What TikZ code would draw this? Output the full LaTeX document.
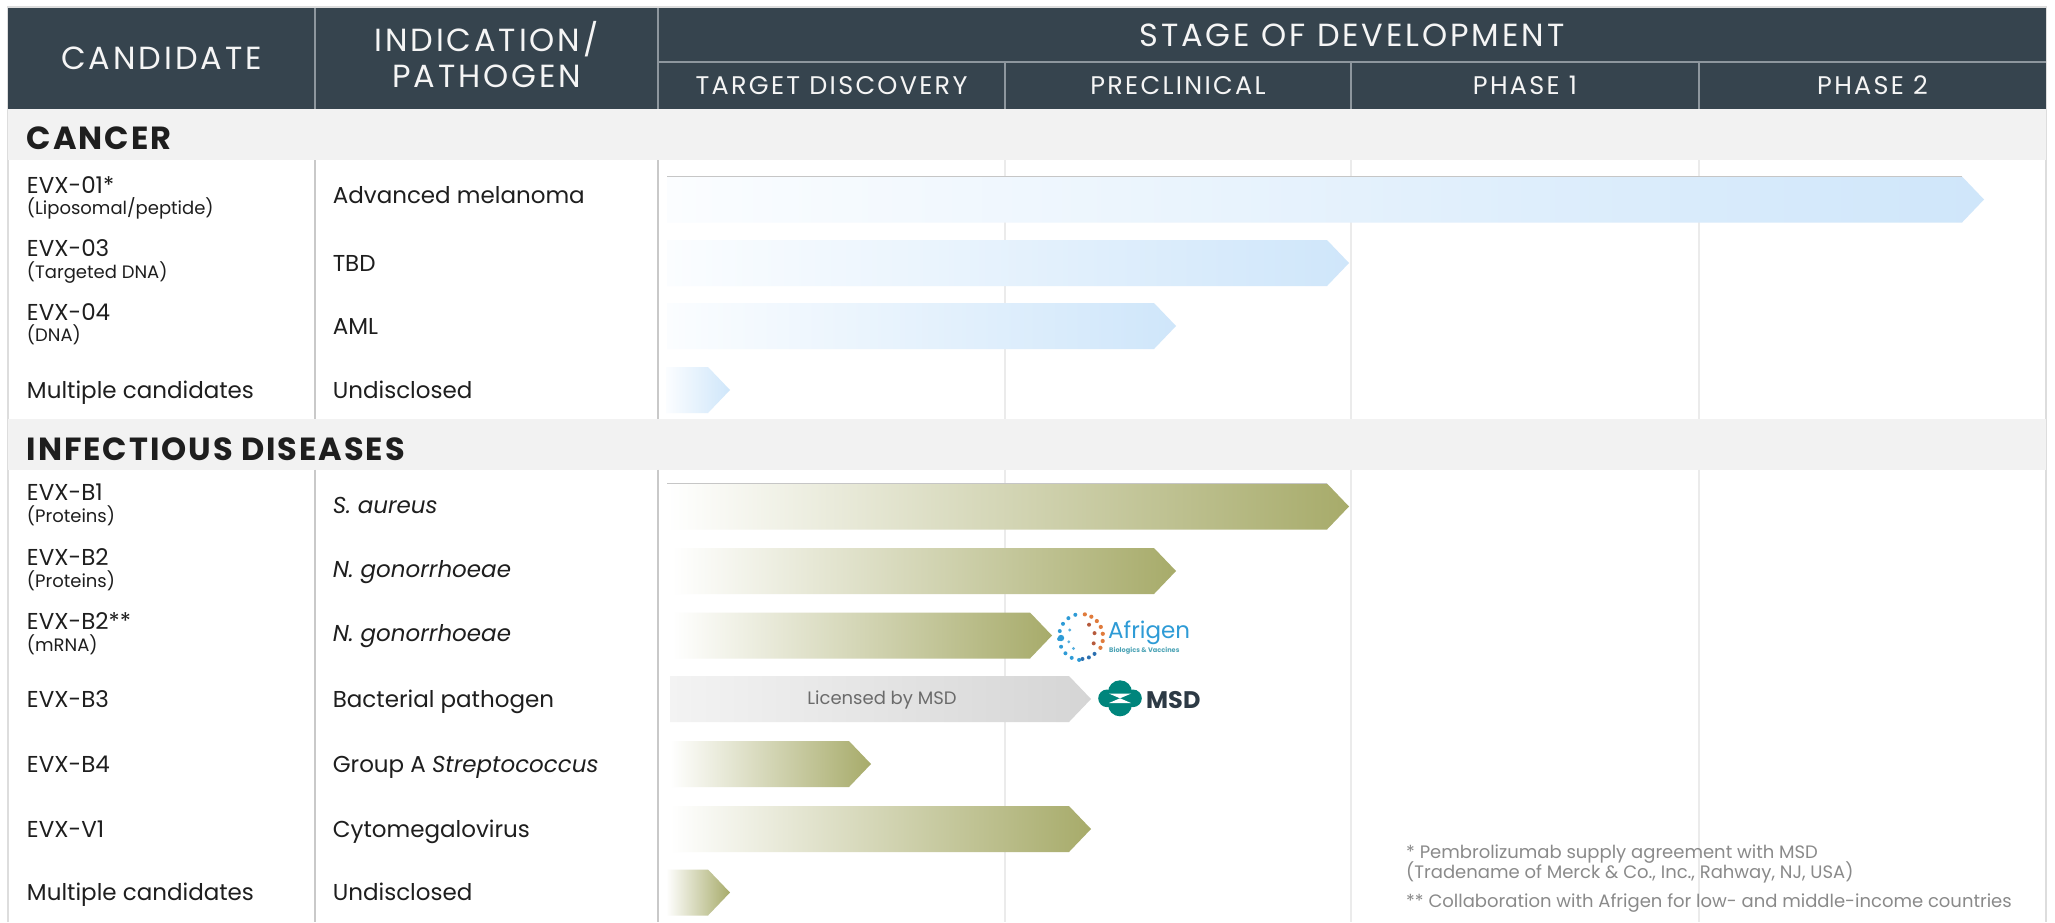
\documentclass[tikz,border=0pt]{standalone}
\usepackage{fontspec}
\setmainfont{Poppins}
\newfontfamily\hdrfont[LetterSpace=9]{Poppins}
\newfontfamily\catfont[LetterSpace=6]{Poppins}
\usetikzlibrary{calc}
\definecolor{hdr}{HTML}{36444E}
\definecolor{hdrline}{HTML}{8E979E}
\definecolor{band}{HTML}{F2F2F2}
\definecolor{divline}{HTML}{C9C9C9}
\definecolor{faintline}{HTML}{EBEBEB}
\definecolor{frame}{HTML}{DDDDDD}
\definecolor{txt}{HTML}{1E1E1E}
\definecolor{bluelo}{HTML}{FBFDFF}
\definecolor{bluehi}{HTML}{CFE6FA}
\definecolor{olivehi}{HTML}{A7AB6A}
\definecolor{graylo}{HTML}{F3F3F3}
\definecolor{grayhi}{HTML}{D5D5D5}
\definecolor{foot}{HTML}{8A8A8A}
\definecolor{afblue}{HTML}{2E9BD6}
\definecolor{afsub}{HTML}{4BA3B5}
\definecolor{aforange}{HTML}{E07B3C}
\definecolor{afbrown}{HTML}{B65A3C}
\definecolor{afdark}{HTML}{2A6FB0}
\definecolor{msdteal}{HTML}{00857C}
\definecolor{msddark}{HTML}{2D3A45}
\tikzset{
  hdrtext/.style={text=white!96!black, font=\hdrfont\fontsize{32}{36}\selectfont, inner sep=0pt},
  subhdr/.style={text=white!96!black, font=\hdrfont\fontsize{25.5}{29}\selectfont, inner sep=0pt},
  cattext/.style={text=txt, font=\catfont\bfseries\fontsize{32}{36}\selectfont, anchor=base west, inner sep=0pt},
  bodytext/.style={text=txt, font=\fontsize{23}{27}\selectfont, anchor=base west, inner sep=0pt},
  smalltext/.style={text=txt, font=\fontsize{18}{22}\selectfont, anchor=base west, inner sep=0pt},
  foottext/.style={text=foot, font=\fontsize{18}{21}\selectfont, anchor=base west, inner sep=0pt},
  hline/.style={draw=hdrline, line width=1.8pt},
  bodydiv/.style={draw=divline, line width=1.4pt},
  bodyfaint/.style={draw=faintline, line width=1.4pt},
}
% \pipearrow[shading]{left x}{center y}{tip x}
\newcommand{\pipearrow}[4][]{%
  \shade[#1] (#2,#3-23) -- (#4-22,#3-23) -- (#4,#3) -- (#4-22,#3+23) -- (#2,#3+23) -- cycle;}
\begin{document}
\begin{tikzpicture}[x=1pt,y=-1pt]
\useasboundingbox (0,0) rectangle (2055,922);
\fill[white] (0,0) rectangle (2055,922);
% outer frame
\draw[frame, line width=1.5pt] (8,922) -- (8,7) -- (2046,7) -- (2046,922);
% header
\fill[hdr] (8,8) rectangle (2046,109);
\draw[hline] (315,8) -- (315,109);
\draw[hline] (658,8) -- (658,109);
\draw[hline] (658,61.7) -- (2046,61.7);
\draw[hline] (1005,61.7) -- (1005,109);
\draw[hline] (1351,61.7) -- (1351,109);
\draw[hline] (1699,61.7) -- (1699,109);
% category bands
\fill[band] (8,109) rectangle (2046,160);
\fill[band] (8,419) rectangle (2046,469.5);
% body vertical lines
\foreach \ya/\yb in {160/419, 469.5/922}{
  \draw[bodydiv] (315,\ya) -- (315,\yb);
  \draw[bodydiv] (658,\ya) -- (658,\yb);
  \draw[bodyfaint] (1005,\ya) -- (1005,\yb);
  \draw[bodyfaint] (1351,\ya) -- (1351,\yb);
  \draw[bodyfaint] (1699,\ya) -- (1699,\yb);
}
% header texts
\node[hdrtext] (hcand) at (161.5,58.3) {CANDIDATE};
\node[hdrtext] (hind1) at (486.5,39) {INDICATION/};
\node[hdrtext] (hind2) at (486.5,76.7) {PATHOGEN};
\node[hdrtext] (hstage) at (1352,35) {STAGE OF DEVELOPMENT};
\node[subhdr] (htd) at (831.5,85.3) {TARGET DISCOVERY};
\node[subhdr] (hpre) at (1178,85.3) {PRECLINICAL};
\node[subhdr] (hp1) at (1525,85.3) {PHASE 1};
\node[subhdr] (hp2) at (1872.5,85.3) {PHASE 2};
% categories
\node[cattext] (ccancer) at (26.8,149) {CANCER};
\node[cattext] (cinf) at (26.8,460) {INFECTIOUS DISEASES};
% cancer arrows
\pipearrow[left color=bluelo, right color=bluehi]{667}{199.5}{1984}
\draw[gray!45, line width=1.2pt] (667,176.5) -- (1962,176.5);
\pipearrow[left color=bluelo, right color=bluehi]{667}{263}{1349}
\pipearrow[left color=bluelo, right color=bluehi]{667}{326}{1176}
\pipearrow[left color=bluelo, right color=bluehi]{666}{390}{730}
% infectious arrows
\pipearrow[left color=white, right color=olivehi]{667}{506.5}{1349}
\draw[gray!45, line width=1.2pt] (667,483.5) -- (1327,483.5);
\pipearrow[left color=white, right color=olivehi]{672}{571}{1176}
\pipearrow[left color=white, right color=olivehi]{672}{635.5}{1052}
\pipearrow[left color=graylo, right color=grayhi]{670}{699}{1091}
\pipearrow[left color=white, right color=olivehi]{670}{764}{871}
\pipearrow[left color=white, right color=olivehi]{670}{829}{1091}
\pipearrow[left color=white, right color=olivehi]{666}{892.5}{730}
\node[text=black!58, font=\fontsize{18}{22}\selectfont, inner sep=0pt] (lic) at (882,700) {Licensed by MSD};
% cancer rows
\node[bodytext] (c01) at (26.8,193.3) {EVX-01*};
\node[smalltext] (c01s) at (26.8,214.6) {(Liposomal/peptide)};
\node[bodytext] (i01) at (332.6,203.5) {Advanced melanoma};
\node[bodytext] (c03) at (26.8,256.8) {EVX-03};
\node[smalltext] (c03s) at (26.8,278.3) {(Targeted DNA)};
\node[bodytext] (i03) at (332.6,271) {TBD};
\node[bodytext] (c04) at (26.8,320) {EVX-04};
\node[smalltext] (c04s) at (26.8,341.5) {(DNA)};
\node[bodytext] (i04) at (332.6,334) {AML};
\node[bodytext] (cm1) at (26.8,398) {Multiple candidates};
\node[bodytext] (im1) at (332.6,398) {Undisclosed};
% infectious rows
\node[bodytext] (cb1) at (26.8,500.7) {EVX-B1};
\node[smalltext] (cb1s) at (26.8,522.5) {(Proteins)};
\node[bodytext] (ib1) at (332.6,513) {\itshape S. aureus};
\node[bodytext] (cb2) at (26.8,565) {EVX-B2};
\node[smalltext] (cb2s) at (26.8,587) {(Proteins)};
\node[bodytext] (ib2) at (332.6,577) {\itshape N. gonorrhoeae};
\node[bodytext] (cb2m) at (26.8,629.5) {EVX-B2**};
\node[smalltext] (cb2ms) at (26.8,651.5) {(mRNA)};
\node[bodytext] (ib2m) at (332.6,641.5) {\itshape N. gonorrhoeae};
\node[bodytext] (cb3) at (26.8,707) {EVX-B3};
\node[bodytext] (ib3) at (332.6,707) {Bacterial pathogen};
\node[bodytext] (cb4) at (26.8,772) {EVX-B4};
\node[bodytext] (ib4) at (332.6,772) {Group A \textit{Streptococcus}};
\node[bodytext] (cv1) at (26.8,837) {EVX-V1};
\node[bodytext] (iv1) at (332.6,837) {Cytomegalovirus};
\node[bodytext] (cm2) at (26.8,900.5) {Multiple candidates};
\node[bodytext] (im2) at (332.6,900.5) {Undisclosed};
% Afrigen logo
\foreach \a in {80,62,44,26,8,-10,-28}{
  \fill[aforange] ({1081+22*cos(\a)},{637-23*sin(\a)}) circle (2.1);}
\foreach \a in {55,15,-25}{
  \fill[afbrown] ({1081+14*cos(\a)},{637-15*sin(\a)}) circle (2.0);}
\foreach \a in {105,125,145,165,185,205,225,245,265}{
  \fill[afblue] ({1081+22*cos(\a)},{637-23*sin(\a)}) circle (2.0);}
\foreach \a in {150,200,235}{
  \fill[afblue!80] ({1081+13*cos(\a)},{637-14*sin(\a)}) circle (1.6);}
\fill[afblue] (1061,638) circle (3.2);
\foreach \a in {-50,-68,-86}{
  \fill[afdark] ({1081+21*cos(\a)},{637-22*sin(\a)}) circle (2.0);}
\node[text=afblue, font=\fontsize{23}{26}\selectfont, anchor=base west, inner sep=0pt] (afr) at (1108,638) {Afrigen};
\node[text=afsub, font=\bfseries\fontsize{6.6}{8}\selectfont, anchor=base west, inner sep=0pt] (afrs) at (1109,652) {Biologics \& Vaccines};
% MSD logo
\fill[msdteal] (1107,698.3) circle (8.8);
\fill[msdteal] (1133,698.3) circle (8.8);
\fill[msdteal] (1108,692.3) -- (1132,692.3) arc[start angle=0, end angle=-180, radius=12] -- cycle;
\fill[msdteal] (1108,704.3) -- (1132,704.3) arc[start angle=0, end angle=180, radius=12] -- cycle;
\fill[msdteal] (1108,692) rectangle (1132,704.6);
\fill[white] (1109,693.6) -- (1131,693.6) -- (1120,698.3) -- cycle;
\fill[white] (1109,703) -- (1131,703) -- (1120,698.3) -- cycle;
\node[text=msddark, font=\bfseries\fontsize{24}{28}\selectfont, anchor=base west, inner sep=0pt] (msd) at (1146,708) {MSD};
% footnotes
\node[foottext] (f1) at (1406,858) {* Pembrolizumab supply agreement with MSD};
\node[foottext] (f2) at (1406,878) {(Tradename of Merck \& Co., Inc., Rahway, NJ, USA)};
\node[foottext] (f3) at (1406,907.5) {** Collaboration with Afrigen for low- and middle-income countries};
\end{tikzpicture}
\end{document}
